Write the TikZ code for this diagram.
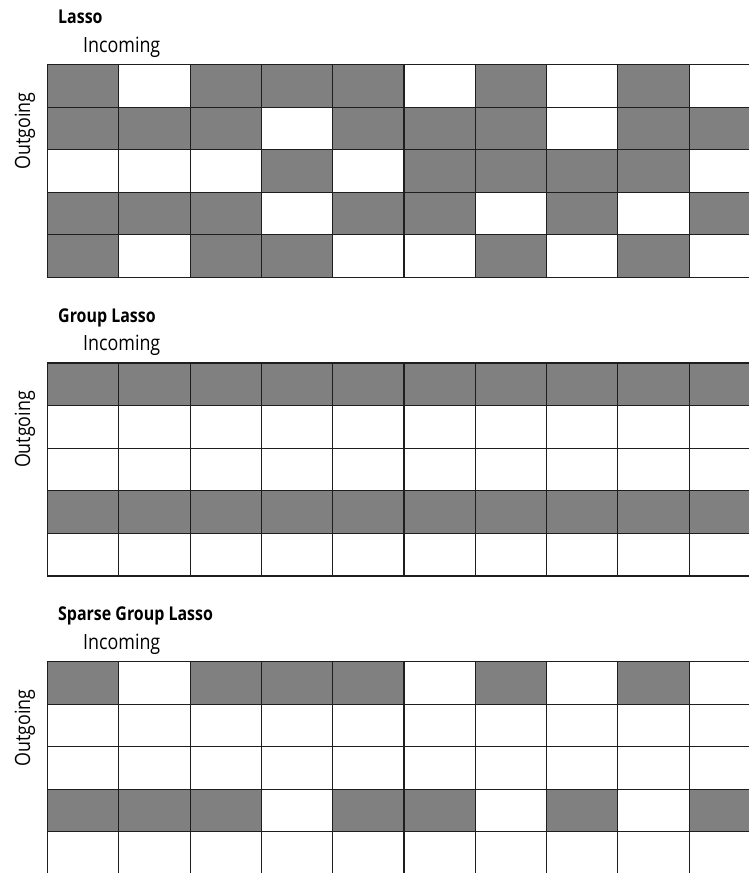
\documentclass[tikz,border=0pt]{standalone}
\usepackage{fontspec}
\setmainfont{Open Sans}
\newfontfamily\axisfont[FakeStretch=0.85]{Open Sans}
\newfontfamily\headfont[FakeStretch=0.84]{Open Sans}
\definecolor{clOn}{HTML}{808080}
\definecolor{clLine}{HTML}{1E1E1E}
\usepackage{tikz}
\tikzset{
  cell/.style={draw=clLine, line width=1.1pt},
  c1/.style={fill=clOn},
  c0/.style={fill=white},
  head/.style={anchor=base west, inner sep=0pt, font=\headfont\bfseries\fontsize{19}{22}\selectfont},
  axis/.style={anchor=base west, inner sep=0pt, font=\axisfont\fontsize{21}{24}\selectfont},
  yaxis/.style={anchor=base, rotate=90, inner sep=0pt, font=\axisfont\fontsize{21}{24}\selectfont},
}

\begin{document}
\begin{tikzpicture}[x=1pt, y=-1pt]
  \useasboundingbox (0,0) rectangle (749,873);
  \clip (0,0) rectangle (749,873);
  % titles and axis labels
  \foreach \ttl/\dy/\nm in {Lasso/0/lasso, Group Lasso/298.5/group, Sparse Group Lasso/597/sparse} {
    \node[head] (title-\nm) at (58,{23.5+\dy}) {\ttl};
    \node[axis] (in-\nm) at (83,{52+\dy}) {Incoming};
    \node[yaxis] (out-\nm) at (30,{131+\dy}) {Outgoing};
  }
  % lasso grid
  \foreach \pat [count=\r from 0] in {{1,0,1,1,1,0,1,0,1,0},{1,1,1,0,1,1,1,0,1,1},{0,0,0,1,0,1,1,1,1,0},{1,1,1,0,1,1,0,1,0,1},{1,0,1,1,0,0,1,0,1,0}}
    \foreach \v [count=\c from 0] in \pat
      \draw[cell, c\v] ({47.5+71.3*\c},{64.5+42.6*\r}) rectangle ++(71.3,42.6);
  % group lasso grid
  \foreach \pat [count=\r from 0] in {{1,1,1,1,1,1,1,1,1,1},{0,0,0,0,0,0,0,0,0,0},{0,0,0,0,0,0,0,0,0,0},{1,1,1,1,1,1,1,1,1,1},{0,0,0,0,0,0,0,0,0,0}}
    \foreach \v [count=\c from 0] in \pat
      \draw[cell, c\v] ({47.5+71.3*\c},{363+42.6*\r}) rectangle ++(71.3,42.6);
  % sparse group lasso grid
  \foreach \pat [count=\r from 0] in {{1,0,1,1,1,0,1,0,1,0},{0,0,0,0,0,0,0,0,0,0},{0,0,0,0,0,0,0,0,0,0},{1,1,1,0,1,1,0,1,0,1},{0,0,0,0,0,0,0,0,0,0}}
    \foreach \v [count=\c from 0] in \pat
      \draw[cell, c\v] ({47.5+71.3*\c},{661.5+42.6*\r}) rectangle ++(71.3,42.6);
\end{tikzpicture}
\end{document}
